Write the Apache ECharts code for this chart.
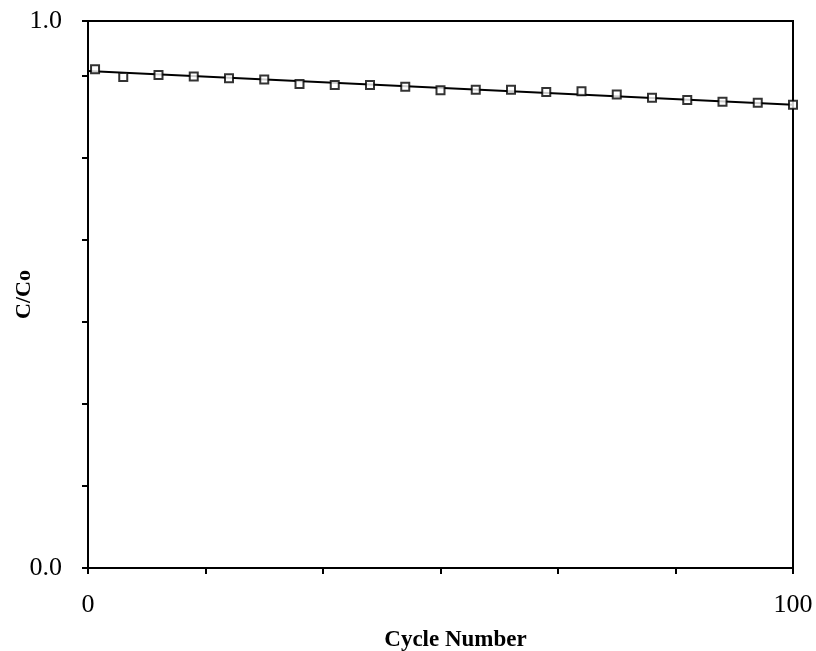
<!DOCTYPE html>
<html>
<head>
<meta charset="utf-8">
<script src="https://cdn.jsdelivr.net/npm/echarts@6/dist/echarts.min.js"></script>
<style>
html,body{margin:0;padding:0;background:#fff;}
#chart{width:816px;height:651px;}
</style>
</head>
<body>
<div id="chart"></div>
<script>
// Data
var cycles = [1, 5, 10, 15, 20, 25, 30, 35, 40, 45, 50, 55, 60, 65, 70, 75, 80, 85, 90, 95, 100];
var ratio = [0.9119, 0.8978, 0.9015, 0.8984, 0.8954, 0.8929, 0.8850, 0.8832, 0.8832, 0.8796,
             0.8735, 0.8741, 0.8741, 0.8704, 0.8717, 0.8655, 0.8595, 0.8558, 0.8522, 0.8504, 0.8467];
var fitX = [0, 100];
var fitY = [0.9088, 0.8467];
var xLabels = {0: '0', 100: '100'};
var yLabels = {0: '0.0', 1: '1.0'};

var points = cycles.map(function (c, i) { return [c, ratio[i]]; });
var fit = fitX.map(function (x, i) { return [x, fitY[i]]; });

var font = 'Liberation Serif';
var chart = echarts.init(document.getElementById('chart'), null, {renderer: 'canvas'});
chart.setOption({
  animation: false,
  backgroundColor: '#fff',
  grid: {left: 88, right: 23, top: 21, bottom: 83, containLabel: false, outerBoundsMode: 'none',
         show: true, borderColor: '#000', borderWidth: 2, backgroundColor: 'transparent'},
  xAxis: {
    type: 'value', min: 0, max: 100, interval: 100 / 6,
    name: 'Cycle Number', nameLocation: 'middle', nameGap: 61, nameMoveOverlap: false,
    nameTextStyle: {fontFamily: font, fontWeight: 'bold', fontSize: 23, color: '#000', padding: [0, 0, 0, 30]},
    axisLine: {lineStyle: {color: '#000', width: 2}},
    axisTick: {inside: false, length: 6, lineStyle: {color: '#000', width: 2}},
    splitLine: {show: false},
    axisLabel: {
      margin: 24, fontFamily: font, fontSize: 26, color: '#000',
      formatter: function (v) {
        if (Math.abs(v) < 1e-6) return xLabels[0];
        if (Math.abs(v - 100) < 1e-6) return xLabels[100];
        return '';
      }
    }
  },
  yAxis: {
    type: 'value', min: 0, max: 1, interval: 0.15,
    name: 'C/Co', nameLocation: 'middle', nameGap: 53, nameRotate: 90, nameMoveOverlap: false,
    nameTextStyle: {fontFamily: font, fontWeight: 'bold', fontSize: 22, color: '#000'},
    axisLine: {lineStyle: {color: '#000', width: 2}},
    axisTick: {inside: false, length: 6, lineStyle: {color: '#000', width: 2}},
    splitLine: {show: false},
    axisLabel: {
      margin: 26, fontFamily: font, fontSize: 26, color: '#000',
      formatter: function (v) {
        if (Math.abs(v) < 1e-6) return yLabels[0];
        if (Math.abs(v - 1) < 1e-6) return yLabels[1];
        return '';
      }
    }
  },
  series: [
    {
      type: 'line', data: fit, symbol: 'none', z: 2,
      lineStyle: {color: '#000', width: 2}
    },
    {
      type: 'scatter', data: points, symbol: 'rect', symbolSize: 8, z: 3,
      itemStyle: {color: '#fff', borderColor: '#000', borderWidth: 2}
    }
  ]
});
</script>
</body>
</html>
